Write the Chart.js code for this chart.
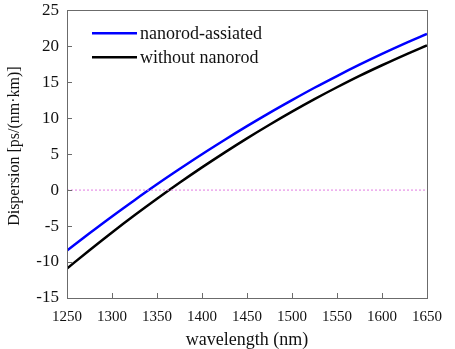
<!DOCTYPE html>
<html>
<head>
<meta charset="utf-8">
<script src="https://cdn.jsdelivr.net/npm/chart.js@4.4.1/dist/chart.umd.min.js"></script>
<style>
  html, body { margin: 0; padding: 0; background: #fff; }
  #wrap { width: 455px; height: 349px; }
</style>
</head>
<body>
<div id="wrap"><canvas id="dispersionChart" width="455" height="349"></canvas></div>
<script>
// wavelength samples (nm)
var wavelengths = [1250, 1275, 1300, 1325, 1350, 1375, 1400, 1425, 1450, 1475, 1500, 1525, 1550, 1575, 1600, 1625, 1650];
// dispersion, ps/(nm km)
var withNanorod = [-8.40, -6.00, -3.66, -1.40, 0.80, 2.92, 4.98, 6.96, 8.88, 10.73, 12.50, 14.22, 15.85, 17.42, 18.92, 20.35, 21.70];
var withoutNanorod = [-10.90, -8.36, -5.89, -3.51, -1.21, 1.01, 3.15, 5.21, 7.19, 9.08, 10.90, 12.64, 14.29, 15.87, 17.35, 18.77, 20.10];
var seriesNames = ['nanorod-assiated', 'without nanorod'];
var xTicks = [1250, 1300, 1350, 1400, 1450, 1500, 1550, 1600, 1650];
var yTicks = [-15, -10, -5, 0, 5, 10, 15, 20, 25];
var zeroLevel = 0;
var yTitle = 'Dispersion [ps/(nm·km)]';

var serif = '"Liberation Serif", "Times New Roman", serif';

function toPoints(ys) {
    return wavelengths.map(function (w, i) { return { x: w, y: ys[i] }; });
}

// frame around plot, inward tick marks and the rotated y title
var frameTicks = {
    id: 'frameTicks',
    afterDraw: function (chart) {
        var ctx = chart.ctx, a = chart.chartArea;
        var xs = chart.scales.x, ys = chart.scales.y;
        ctx.save();
        ctx.strokeStyle = '#6b6b6b';
        ctx.lineWidth = 1;
        ctx.strokeRect(Math.round(a.left) + 0.5, Math.round(a.top) + 0.5,
            Math.round(a.right - a.left), Math.round(a.bottom - a.top));
        ctx.beginPath();
        xTicks.forEach(function (v) {
            var px = Math.round(xs.getPixelForValue(v)) + 0.5;
            ctx.moveTo(px, a.bottom);
            ctx.lineTo(px, a.bottom - 5);
        });
        yTicks.forEach(function (v) {
            var py = Math.round(ys.getPixelForValue(v)) + 0.5;
            ctx.moveTo(a.left, py);
            ctx.lineTo(a.left + 5, py);
        });
        ctx.stroke();

        ctx.translate(15, (a.top + a.bottom) / 2 - 8);
        ctx.rotate(-Math.PI / 2);
        ctx.font = '16px ' + serif;
        ctx.fillStyle = '#111';
        ctx.textAlign = 'center';
        ctx.textBaseline = 'middle';
        ctx.fillText(yTitle, 0, 0);
        ctx.restore();
    }
};

// legend drawn inside the plot, top-left
var innerLegend = {
    id: 'innerLegend',
    afterDatasetsDraw: function (chart) {
        var ctx = chart.ctx, a = chart.chartArea;
        var row = 0;
        ctx.save();
        ctx.font = '18px ' + serif;
        ctx.textBaseline = 'middle';
        chart.data.datasets.forEach(function (ds) {
            if (!ds.inLegend) return;
            var y = a.top + 23 + row * 24;
            ctx.strokeStyle = ds.borderColor;
            ctx.lineWidth = ds.borderWidth;
            ctx.beginPath();
            ctx.moveTo(a.left + 25, y);
            ctx.lineTo(a.left + 70, y);
            ctx.stroke();
            ctx.fillStyle = '#111';
            ctx.fillText(ds.label, a.left + 73, y + 1);
            row++;
        });
        ctx.restore();
    }
};

var ctx = document.getElementById('dispersionChart').getContext('2d');
var dispersionChart = new Chart(ctx, {
    type: 'line',
    data: {
        datasets: [
            {
                label: 'zero',
                data: [{ x: xTicks[0], y: zeroLevel }, { x: xTicks[xTicks.length - 1], y: zeroLevel }],
                borderColor: '#e27ae2',
                borderWidth: 1,
                borderDash: [2, 2],
                pointRadius: 0,
                inLegend: false
            },
            {
                label: seriesNames[0],
                data: toPoints(withNanorod),
                borderColor: '#0000ff',
                borderWidth: 2.5,
                pointRadius: 0,
                cubicInterpolationMode: 'monotone',
                inLegend: true
            },
            {
                label: seriesNames[1],
                data: toPoints(withoutNanorod),
                borderColor: '#000000',
                borderWidth: 2.5,
                pointRadius: 0,
                cubicInterpolationMode: 'monotone',
                inLegend: true
            }
        ]
    },
    options: {
        responsive: false,
        animation: false,
        layout: { padding: { top: 10, right: 28, left: 0, bottom: 0 } },
        scales: {
            x: {
                type: 'linear',
                min: xTicks[0],
                max: xTicks[xTicks.length - 1],
                border: { display: false },
                grid: { display: false },
                afterBuildTicks: function (scale) {
                    scale.ticks = xTicks.map(function (v) { return { value: v }; });
                },
                afterFit: function (scale) { scale.height = 51; },
                ticks: {
                    color: '#111',
                    padding: 2,
                    maxRotation: 0,
                    font: { family: serif, size: 15 },
                    callback: function (v) { return String(v); }
                },
                title: {
                    display: true,
                    text: 'wavelength (nm)',
                    color: '#111',
                    font: { family: serif, size: 18, lineHeight: 1.0 },
                    padding: { top: 0, bottom: 0 }
                }
            },
            y: {
                type: 'linear',
                min: yTicks[0],
                max: yTicks[yTicks.length - 1],
                border: { display: false },
                grid: { display: false },
                afterBuildTicks: function (scale) {
                    scale.ticks = yTicks.map(function (v) { return { value: v }; });
                },
                afterFit: function (scale) { scale.width = 67; },
                ticks: {
                    color: '#111',
                    padding: 0,
                    font: { family: serif, size: 17 },
                    callback: function (v) { return String(v); }
                },
                title: { display: false }
            }
        },
        plugins: {
            legend: { display: false },
            tooltip: { enabled: false }
        }
    },
    plugins: [frameTicks, innerLegend]
});
</script>
</body>
</html>
